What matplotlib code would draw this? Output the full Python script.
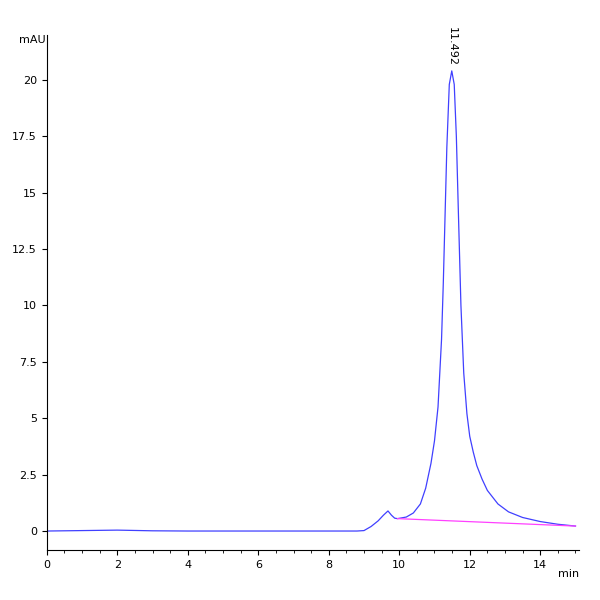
import matplotlib
matplotlib.use("Agg")
import matplotlib.pyplot as plt

t = [0, 1, 2, 3, 4, 5, 6, 7, 8, 8.8, 9.0, 9.2, 9.4, 9.55, 9.68, 9.78, 9.87, 9.95, 10.2, 10.4, 10.6, 10.75, 10.9, 11.0, 11.1, 11.2, 11.25, 11.3, 11.35, 11.42, 11.49, 11.56, 11.62, 11.68, 11.75, 11.83, 11.92, 12.0, 12.1, 12.2, 12.35, 12.5, 12.8, 13.1, 13.5, 14.0, 14.5, 15.0]
mau = [0, 0.02, 0.04, 0.01, 0, 0, 0, 0, 0, 0, 0.02, 0.2, 0.45, 0.7, 0.89, 0.7, 0.57, 0.55, 0.62, 0.8, 1.2, 1.9, 3.0, 4.0, 5.5, 8.5, 11.0, 14.0, 17.0, 19.8, 20.4, 19.8, 17.5, 14.0, 10.0, 7.0, 5.2, 4.2, 3.5, 2.9, 2.3, 1.8, 1.2, 0.85, 0.6, 0.42, 0.3, 0.22]
base_t = [9.95, 15.0]
base_y = [0.55, 0.22]
peak_t = 11.492

fig = plt.figure(figsize=(6, 6), dpi=100)
ax = fig.add_axes([0.078, 0.083, 0.887, 0.859])
ax.plot(t, mau, color="#4040ff", lw=0.9)
ax.plot(base_t, base_y, color="#ff40ff", lw=0.9)
ax.text(peak_t, 20.6, f"{peak_t:.3f}", rotation=-90, ha="center", va="bottom", fontsize=8)
ax.set_xlim(0, 15.1)
ax.set_ylim(-0.85, 22.0)
ax.set_xticks(range(0, 15, 2))
ax.set_xticks([x * 0.5 for x in range(31)], minor=True)
ax.set_yticks([0, 2.5, 5, 7.5, 10, 12.5, 15, 17.5, 20])
ax.set_yticklabels(["0", "2.5", "5", "7.5", "10", "12.5", "15", "17.5", "20"])
ax.tick_params(labelsize=8)
for s in ["top", "right"]:
    ax.spines[s].set_visible(False)
ax.text(-0.02, 22.0, "mAU", ha="right", va="top", fontsize=8, transform=ax.transData)
ax.text(15.1, -1.7, "min", ha="right", va="top", fontsize=8)
fig.savefig("out.png")
